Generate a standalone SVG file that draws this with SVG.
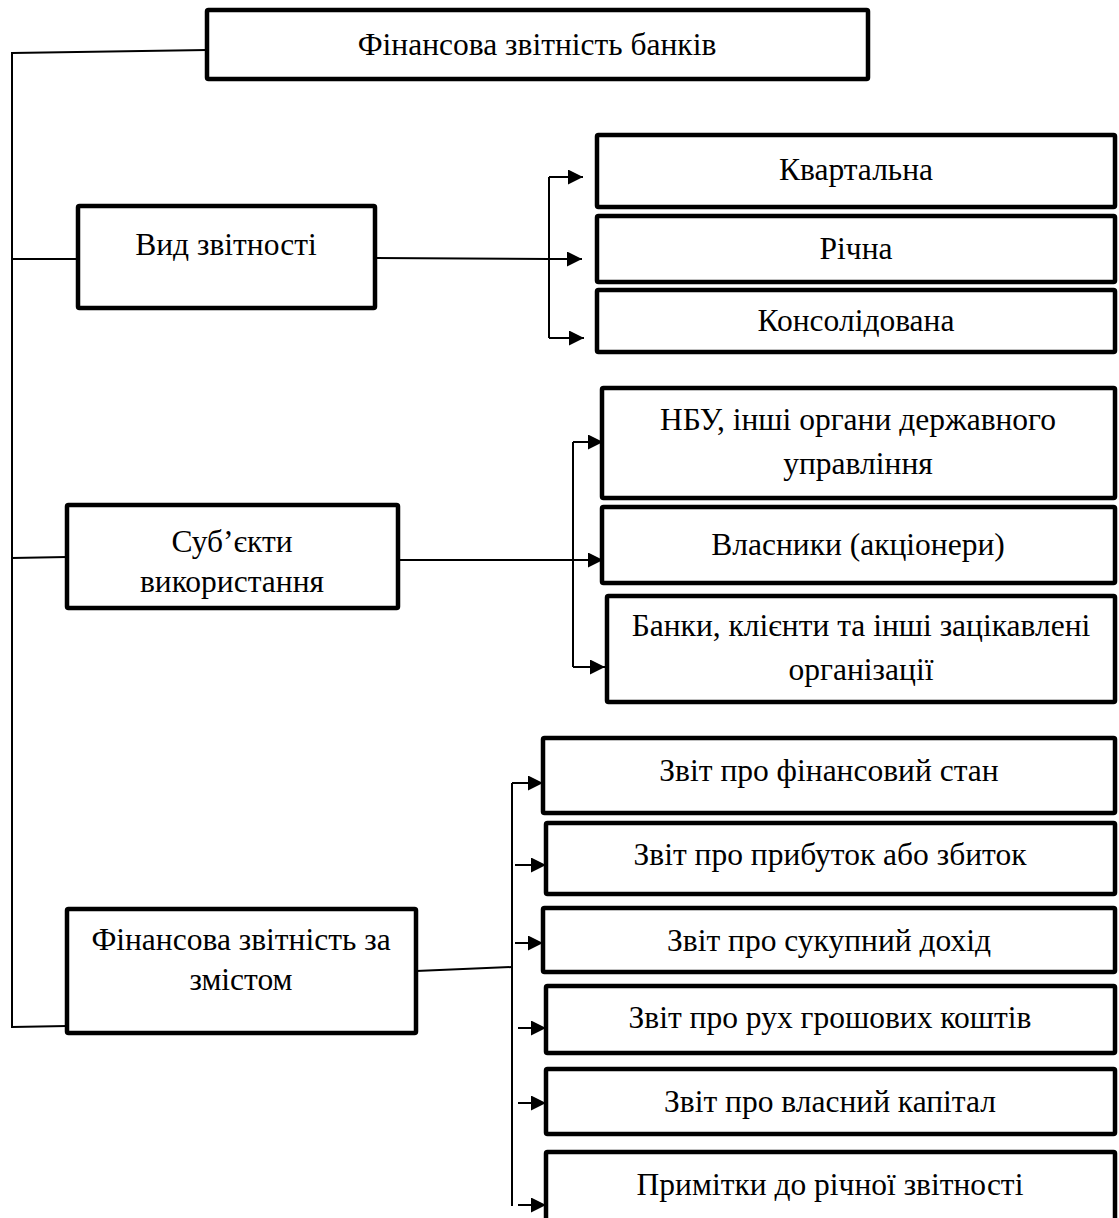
<svg xmlns="http://www.w3.org/2000/svg" width="1119" height="1218" viewBox="0 0 1119 1218">
<defs>
<marker id="arr" markerUnits="userSpaceOnUse" markerWidth="15" markerHeight="15" refX="15" refY="7.5" orient="auto">
<path d="M0,0 L15,7.5 L0,15 z" fill="#000"/>
</marker>
<style>
.box{fill:#fff;stroke:#000;stroke-width:4.5}
.ln{fill:none;stroke:#000;stroke-width:2}
.ar{fill:none;stroke:#000;stroke-width:2;marker-end:url(#arr)}
text{font-family:"Liberation Serif","Times New Roman",serif;font-size:31.5px;fill:#000;text-anchor:middle}
</style>
</defs>
<rect width="1119" height="1218" fill="#fff"/>
<g id="connectors">
<path class="ln" d="M12,53 L207,50"/>
<path class="ln" d="M12,52 L12,1028"/>
<path class="ln" d="M12,259 L78,259"/>
<path class="ln" d="M12,558 L67,557"/>
<path class="ln" d="M12,1027 L67,1026"/>
<path class="ln" d="M375,258 L549,259"/>
<path class="ln" d="M549,177 L549,338"/>
<path class="ar" d="M549,177 L583,177"/>
<path class="ar" d="M549,259 L582,259"/>
<path class="ar" d="M549,338 L584,338"/>
<path class="ln" d="M398,560 L573,560"/>
<path class="ln" d="M573,442 L573,667"/>
<path class="ar" d="M573,442 L603,442"/>
<path class="ar" d="M573,560 L603,560"/>
<path class="ar" d="M573,667 L605,667"/>
<path class="ln" d="M416,971 L512,967"/>
<path class="ln" d="M512,783 L512,1206"/>
<path class="ar" d="M512,783 L543,783"/>
<path class="ar" d="M515,865 L546,865"/>
<path class="ar" d="M515,943 L543,943"/>
<path class="ar" d="M518,1028 L546,1028"/>
<path class="ar" d="M518,1103 L546,1103"/>
<path class="ar" d="M518,1205 L546,1205"/>
</g>
<g id="n-root"><rect class="box" x="207" y="10" width="661" height="69" rx="1.5"/><text x="537" y="55">Фінансова звітність банків</text></g>
<g id="n-vyd"><rect class="box" x="78" y="206" width="297" height="102" rx="1.5"/><text x="226" y="255">Вид звітності</text></g>
<g id="n-kv"><rect class="box" x="597" y="135" width="518" height="72" rx="1.5"/><text x="856" y="180">Квартальна</text></g>
<g id="n-rich"><rect class="box" x="597" y="216" width="518" height="66" rx="1.5"/><text x="856" y="259">Річна</text></g>
<g id="n-kons"><rect class="box" x="597" y="290" width="518" height="62" rx="1.5"/><text x="856" y="331">Консолідована</text></g>
<g id="n-sub"><rect class="box" x="67" y="505" width="331" height="103" rx="1.5"/><text x="232" y="552">Суб’єкти</text><text x="232" y="592">використання</text></g>
<g id="n-nbu"><rect class="box" x="602" y="388" width="513" height="110" rx="1.5"/><text x="858" y="430">НБУ, інші органи державного</text><text x="858" y="474">управління</text></g>
<g id="n-vlas"><rect class="box" x="602" y="507" width="513" height="76" rx="1.5"/><text x="858" y="555">Власники (акціонери)</text></g>
<g id="n-bank"><rect class="box" x="607" y="596" width="508" height="106" rx="1.5"/><text x="861" y="636">Банки, клієнти та інші зацікавлені</text><text x="861" y="680">організації</text></g>
<g id="n-zmist"><rect class="box" x="67" y="909" width="349" height="124" rx="1.5"/><text x="241" y="950">Фінансова звітність за</text><text x="241" y="990">змістом</text></g>
<g id="n-fin"><rect class="box" x="543" y="738" width="572" height="75" rx="1.5"/><text x="829" y="781">Звіт про фінансовий стан</text></g>
<g id="n-prib"><rect class="box" x="546" y="823" width="569" height="71" rx="1.5"/><text x="830" y="865">Звіт про прибуток або збиток</text></g>
<g id="n-suk"><rect class="box" x="543" y="908" width="572" height="64" rx="1.5"/><text x="829" y="951">Звіт про сукупний дохід</text></g>
<g id="n-ruh"><rect class="box" x="546" y="986" width="569" height="67" rx="1.5"/><text x="830" y="1028">Звіт про рух грошових коштів</text></g>
<g id="n-kap"><rect class="box" x="546" y="1069" width="569" height="65" rx="1.5"/><text x="830" y="1112">Звіт про власний капітал</text></g>
<g id="n-prim"><rect class="box" x="546" y="1152" width="569" height="80" rx="1.5"/><text x="830" y="1195">Примітки до річної звітності</text></g>
</svg>
